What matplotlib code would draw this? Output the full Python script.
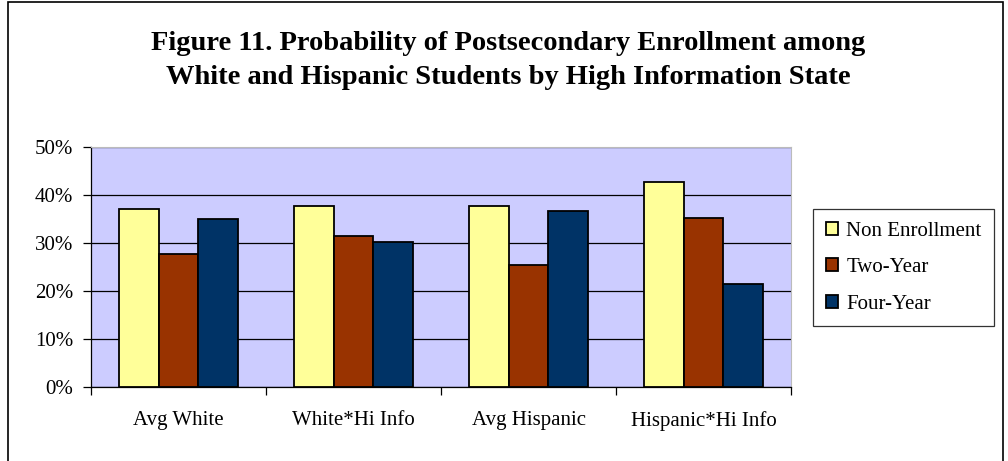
import matplotlib.pyplot as plt
import numpy as np
from matplotlib.patches import Rectangle
from matplotlib.ticker import FuncFormatter

categories = ["Avg White", "White*Hi Info", "Avg Hispanic", "Hispanic*Hi Info"]
series_names = ["Non Enrollment", "Two-Year", "Four-Year"]
non_enrollment = [37.0, 37.8, 37.8, 42.8]
two_year = [27.8, 31.5, 25.4, 35.3]
four_year = [34.9, 30.3, 36.6, 21.5]
colors = ["#FFFF99", "#993300", "#003366"]

plt.rcParams["font.family"] = ["Liberation Serif", "DejaVu Serif"]

W, H = 1008, 461
fig = plt.figure(figsize=(W / 100, H / 100), dpi=100)
fig.patch.set_facecolor("white")

# plot area in pixel coords: x 91..791, y 147..387
ax = fig.add_axes([91 / W, 1 - 387 / H, 700 / W, 240 / H])
ax.set_facecolor("#CCCCFF")

x = np.arange(len(categories))
bar_w = 0.226
for i, (vals, name) in enumerate(zip([non_enrollment, two_year, four_year], series_names)):
    ax.bar(x + (i - 1) * bar_w, vals, width=bar_w, color=colors[i],
           edgecolor="black", linewidth=1.3, label=name, zorder=3)

ax.set_xlim(-0.5, len(categories) - 0.5)
ax.set_ylim(0, 50)
ax.set_yticks(np.arange(0, 51, 10))
ax.yaxis.set_major_formatter(FuncFormatter(lambda v, p: f"{v:.0f}%"))
ax.grid(axis="y", color="black", linewidth=0.9, zorder=1)
ax.set_xticks(x)
ax.set_xticklabels(categories)
ax.set_xticks(np.arange(-0.5, len(categories)), minor=True)
ax.tick_params(axis="x", which="major", length=0, pad=17, labelsize=15)
ax.tick_params(axis="x", which="minor", length=6, direction="out", width=0.9)
ax.tick_params(axis="y", length=6, direction="out", width=0.9, labelsize=15, pad=7)
for s in ["top", "right"]:
    ax.spines[s].set_color("#BBBBBB")
    ax.spines[s].set_linewidth(0.8)
for s in ["left", "bottom"]:
    ax.spines[s].set_color("black")
    ax.spines[s].set_linewidth(0.9)

leg = ax.legend(loc="upper left", bbox_to_anchor=(813 / W, 1 - 209 / H, 186 / W, 0),
                bbox_transform=fig.transFigure, frameon=True, fancybox=False,
                fontsize=15, handlelength=0.6, handleheight=0.6, handletextpad=0.4,
                labelspacing=0.85, borderpad=0.6, borderaxespad=0)
leg.get_frame().set_edgecolor("black")
leg.get_frame().set_linewidth(0.9)

fig.text(508 / W, 1 - 43 / H, "Figure 11. Probability of Postsecondary Enrollment among",
         ha="center", va="center", fontsize=20.5, fontweight="bold")
fig.text(508 / W, 1 - 77 / H, "White and Hispanic Students by High Information State",
         ha="center", va="center", fontsize=20.5, fontweight="bold")

fig.patches.append(Rectangle((8 / W, -0.05), 995 / W, 1 - 2 / H + 0.05,
                             transform=fig.transFigure, fill=False,
                             edgecolor="black", linewidth=1.2))

fig.savefig("out.png", dpi=100)
